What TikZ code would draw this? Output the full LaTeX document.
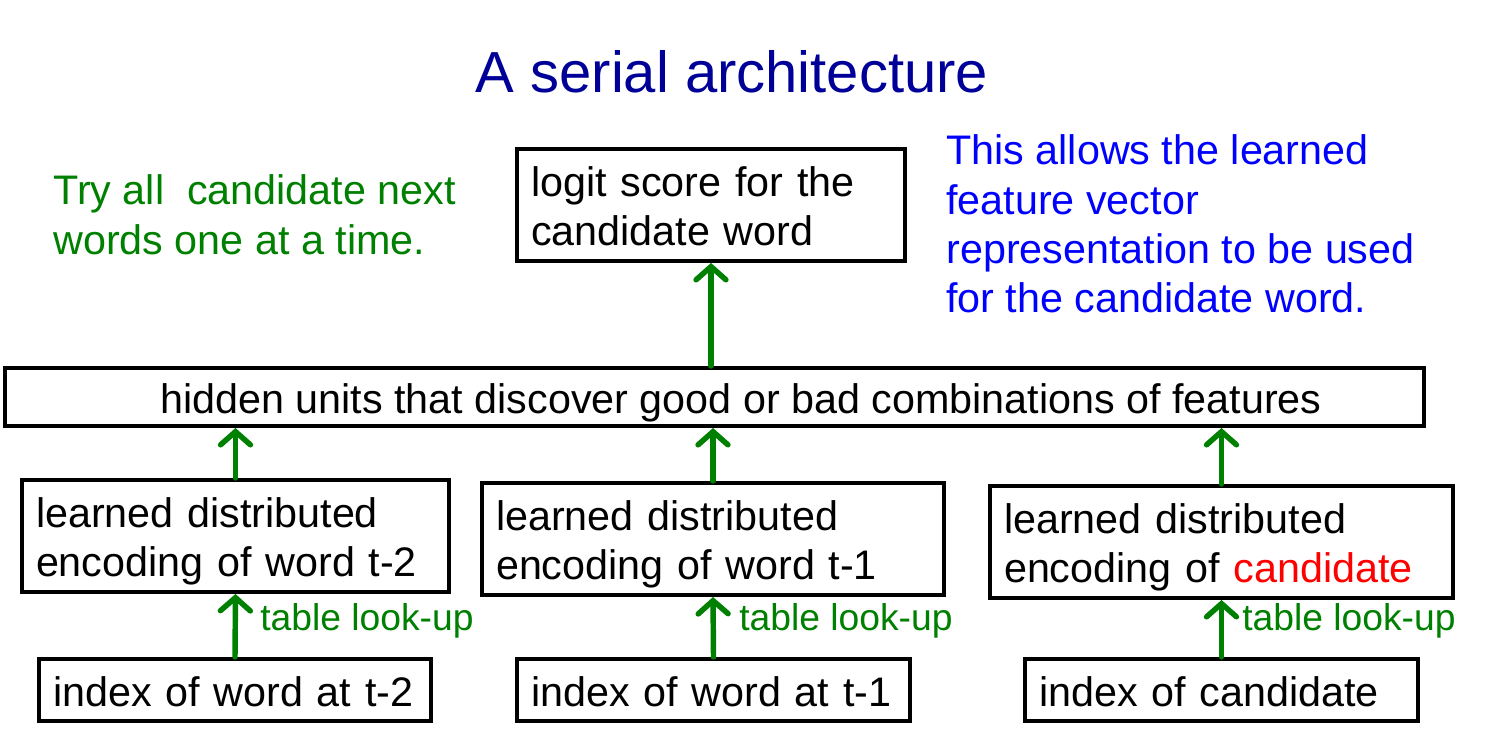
\documentclass[tikz,border=0pt]{standalone}
\usepackage{fontspec}
\setmainfont{Liberation Sans}
\usetikzlibrary{arrows.meta}
\definecolor{ttlblue}{HTML}{000099}
\definecolor{txtblue}{HTML}{0000FF}
\definecolor{grn}{HTML}{008000}
\definecolor{rd}{HTML}{FF0000}
\newcommand{\mainsz}{\fontsize{23.5pt}{27.9pt}\selectfont}
\newcommand{\tstrut}[1]{\rule{0pt}{#1}}
\tikzset{
  box/.style={draw=black, line width=2.3pt, inner xsep=0.28cm, inner ysep=0pt,
    align=left, font=\mainsz, minimum height=#1},
  arr/.style={draw=grn, line width=3.1pt, line cap=round,
    -{Straight Barb[length=7.5pt, width=17pt, line cap=round]}},
  lookup/.style={anchor=base west, text=grn, inner sep=0pt, font=\fontsize{21.2pt}{25pt}\selectfont},
  freetxt/.style={anchor=base west, inner sep=0pt}
}
\begin{document}
\begin{tikzpicture}[x=0.02cm, y=-0.02cm]
\useasboundingbox (0,0) rectangle (1508,742);
% title
\node[anchor=base, inner sep=0pt, text=ttlblue, font=\fontsize{33pt}{40pt}\selectfont] (title) at (732,93) {A serial architecture};
% side texts
\node[freetxt, text=grn] (try) at (53,205) {\mainsz\begin{tabular}[t]{@{}l@{}}Try all\ \ candidate next\\ words one at a time.\end{tabular}};
\node[freetxt, text=txtblue] (allows) at (946,165) {\mainsz\begin{tabular}[t]{@{}l@{}}This allows the learned\\ feature vector\\ representation to be used\\ for the candidate word.\end{tabular}};
% boxes
\node[box=2.24cm, text width=7.2cm] (logit) at (711,205) {\tstrut{18.2pt}logit score for the\\ candidate word};
\node[box=1.16cm, minimum width=28.38cm] (hid) at (714.5,397) {\tstrut{23.9pt}\hspace*{1.06cm}hidden units that discover good or bad combinations of features};
\node[box=2.24cm, text width=7.98cm] (l1) at (235.5,536) {\tstrut{22.8pt}learned distributed\\ encoding of word t-2};
\node[box=2.24cm, text width=8.68cm] (l2) at (713,539) {\tstrut{22.8pt}learned distributed\\ encoding of word t-1};
\node[box=2.24cm, text width=8.70cm] (l3) at (1221.5,542) {\tstrut{22.8pt}learned distributed\\ encoding of \textcolor{rd}{candidate}};
\node[box=1.24cm, text width=7.28cm] (i1) at (235,690) {\tstrut{19.4pt}index of word at t-2};
\node[box=1.24cm, text width=7.30cm] (i2) at (713.5,690) {\tstrut{19.4pt}index of word at t-1};
\node[box=1.24cm, text width=7.30cm] (i3) at (1221.5,690) {\tstrut{19.4pt}index of candidate};
% arrows
\draw[arr] (hid.north -| logit.south) -- (logit.south);
\draw[arr] (l1.north) -- (hid.south -| l1.north);
\draw[arr] (l2.north) -- (hid.south -| l2.north);
\draw[arr] (l3.north) -- (hid.south -| l3.north);
\draw[arr] (i1.north) -- (l1.south);
\draw[arr] (i2.north) -- (l2.south);
\draw[arr] (i3.north) -- (l3.south);
% table look-up labels
\node[lookup] (tl1) at (260,631) {table look-up};
\node[lookup] (tl2) at (739,631) {table look-up};
\node[lookup] (tl3) at (1242,631) {table look-up};
\end{tikzpicture}
\end{document}
